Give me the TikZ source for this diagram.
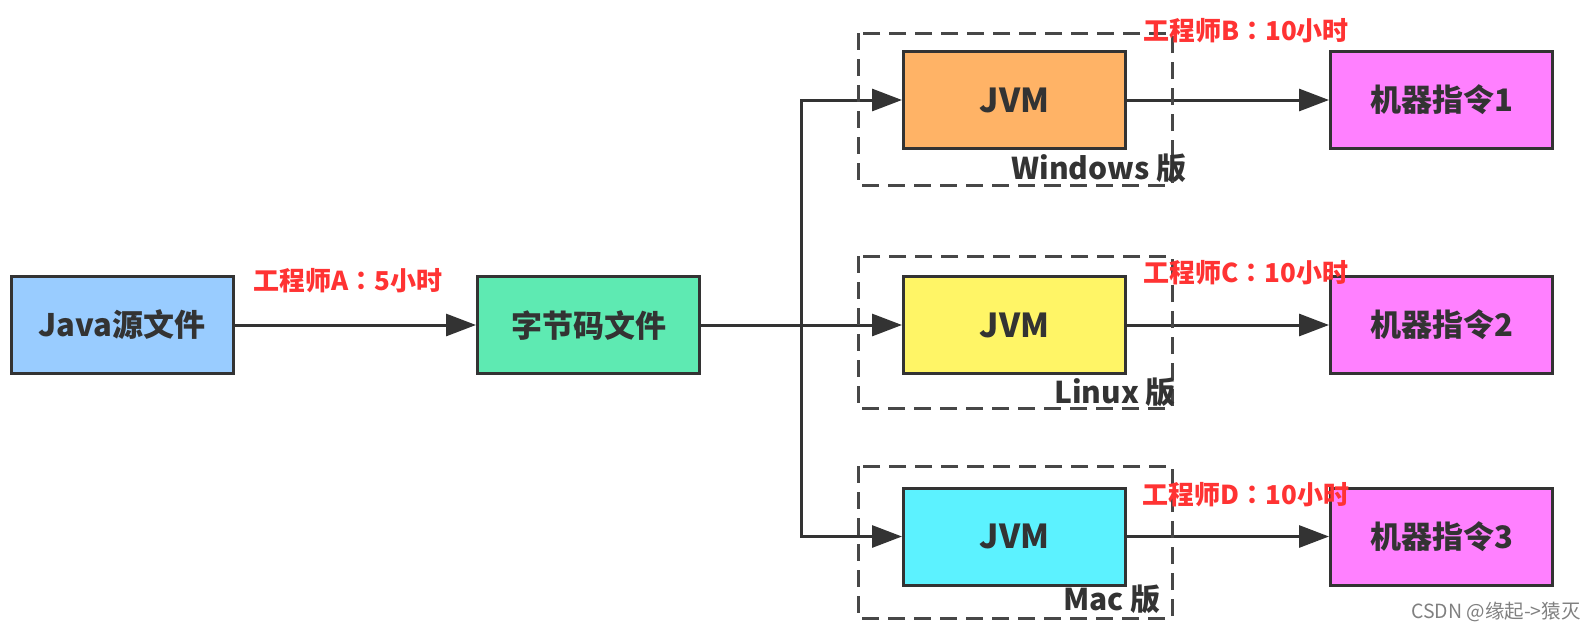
\documentclass[tikz,border=0pt]{standalone}
\usepackage{fontspec}
\setmainfont{Noto Sans CJK SC}
\newfontfamily\tcfont{Noto Sans CJK TC}
\usetikzlibrary{arrows.meta}
\definecolor{javablue}{RGB}{153,204,255}
\definecolor{bytegreen}{RGB}{94,234,178}
\definecolor{winorange}{RGB}{255,179,102}
\definecolor{linyellow}{RGB}{255,245,102}
\definecolor{maccyan}{RGB}{92,242,255}
\definecolor{machpink}{RGB}{255,128,255}
\definecolor{costred}{RGB}{255,51,51}
\definecolor{ink}{RGB}{51,51,51}
\tikzset{
  box/.style={draw=ink,line width=3pt,minimum width=222pt,minimum height=97pt,
    inner sep=0pt,font=\fontsize{31}{36}\selectfont\bfseries,text=ink},
  jvm/.style={box,font=\fontsize{33}{38}\selectfont\bfseries},
  link/.style={draw=ink,line width=3pt,-{Triangle[length=30pt,width=22pt]}},
  dashbox/.style={draw=ink!90,line width=3pt,dash pattern=on 17pt off 9pt},
  cost/.style={text=costred,font=\tcfont\fontsize{26}{30}\selectfont\bfseries,inner sep=0pt},
  plat/.style={text=ink,font=\fontsize{30}{34}\selectfont\bfseries,inner sep=0pt},
  wmark/.style={text=black!50,font=\fontsize{19.5}{23}\selectfont,inner sep=0pt}
}
\begin{document}
\begin{tikzpicture}[x=1pt,y=-1pt]
\useasboundingbox (0,0) rectangle (1594,629);
\node[box,fill=javablue] (java) at (122,325){Java源文件};
\node[box,fill=bytegreen] (byte) at (588.5,325){字节码文件};
\node[jvm,fill=winorange] (jvmw) at (1014.5,100){JVM};
\node[jvm,fill=linyellow] (jvml) at (1014.5,325){JVM};
\node[jvm,fill=maccyan] (jvmm) at (1014.5,536.5){JVM};
\node[box,fill=machpink] (mach1) at (1441.5,100){机器指令1};
\node[box,fill=machpink] (mach2) at (1441.5,325){机器指令2};
\node[box,fill=machpink] (mach3) at (1441.5,536.5){机器指令3};
\coordinate (split) at (801,325);
\draw[link] (java) -- (byte);
\draw[link] (byte) -- (jvml);
\draw[link] (split) |- (jvmw);
\draw[link] (split) |- (jvmm);
\draw[link] (jvmw) -- (mach1);
\draw[link] (jvml) -- (mach2);
\draw[link] (jvmm) -- (mach3);
\draw[dashbox] (858,33) rectangle (1172,185);
\draw[dashbox] (858,256) rectangle (1172,408);
\draw[dashbox] (858,466) rectangle (1172,618);
\node[plat] (winlab) at (1099,168){Windows 版};
\node[plat] (linlab) at (1115,392){Linux 版};
\node[plat] (maclab) at (1112,599){Mac 版};
\node[cost] (costa) at (348,281){工程师A：5小时};
\node[cost] (costb) at (1246,31){工程师B：10小时};
\node[cost] (costc) at (1246,273){工程师C：10小时};
\node[cost] (costd) at (1246,495){工程师D：10小时};
\node[wmark] (csdn) at (1496,612){CSDN @缘起->猿灭};
\end{tikzpicture}
\end{document}
